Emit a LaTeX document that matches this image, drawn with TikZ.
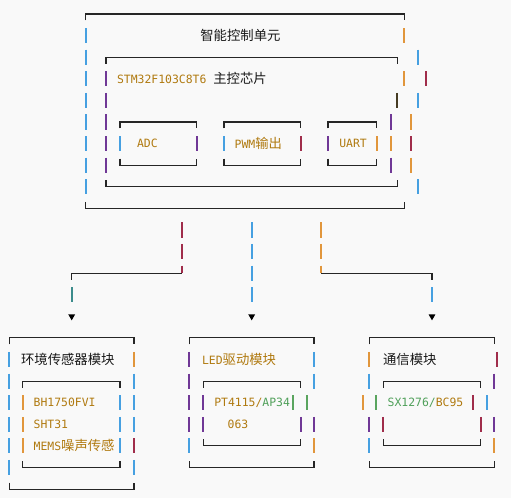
\documentclass[tikz,border=0pt]{standalone}
\usepackage{fontspec}
\setmonofont{DejaVu Sans Mono}
\newfontfamily\cjk{Noto Sans CJK SC}
\usetikzlibrary{shapes.geometric,calc}
\definecolor{barblue}{RGB}{70,160,225}
\definecolor{barorange}{RGB}{225,150,60}
\definecolor{barpurple}{RGB}{112,56,150}
\definecolor{barred}{RGB}{160,45,75}
\definecolor{bargreen}{RGB}{90,165,95}
\definecolor{barteal}{RGB}{60,140,140}
\definecolor{bardark}{RGB}{70,60,35}
\definecolor{txtgold}{RGB}{176,122,16}
\definecolor{txtgreen}{RGB}{80,160,90}
\definecolor{txtdark}{RGB}{25,25,25}
\definecolor{bgpaper}{RGB}{249,249,249}
\newcommand\zh[1]{{\cjk\fontsize{7.6}{9}\selectfont #1}}

\begin{document}
\begin{tikzpicture}[
  x=0.02cm, y=-0.432cm,
  % ── line styles ──────────────────────────────────────────
  edge/.style={line width=0.6pt, draw=black!85},
  bar/.style={line width=1.1pt},
  % ── text styles ──────────────────────────────────────────
  lbl/.style={anchor=west, inner sep=0pt, text=txtdark,
    font=\ttfamily\fontsize{6.5}{8}\selectfont},
  code/.style={lbl, text=txtgold},
  % ── arrow head ───────────────────────────────────────────
  tip/.style={regular polygon, regular polygon sides=3,
    shape border rotate=180, fill=black, draw=none,
    minimum size=0.16cm, inner sep=0pt},
]
\fill[bgpaper] (0,-0.648) rectangle (511,22.407);
\useasboundingbox (0,-0.648) rectangle (511,22.407);

%% ── MAIN CONTROL UNIT ────────────────────────────────────────
\draw[edge] (85.7,0.3) -- (85.7,0) -- (404.3,0) -- (404.3,0.3);
\draw[edge] (85.7,8.7) -- (85.7,9) -- (404.3,9) -- (404.3,8.7);
\draw[edge] (106,2.3) -- (106,2) -- (397.3,2) -- (397.3,2.3);
\draw[edge] (106,7.7) -- (106,8) -- (397.3,8) -- (397.3,7.7);
\foreach \a/\b in {120/196.7, 224/300.7, 328/376.7}{
  \draw[edge] (\a,5.3) -- (\a,5) -- (\b,5) -- (\b,5.3);
  \draw[edge] (\a,6.7) -- (\a,7) -- (\b,7) -- (\b,6.7);}

% side bars
\foreach \row in {1,...,8}
  \draw[bar, draw=barblue] (85.7,\row-0.35) -- (85.7,\row+0.35);
\foreach \row in {3,...,7}
  \draw[bar, draw=barpurple] (106,\row-0.35) -- (106,\row+0.35);
\foreach \x/\row/\col in {404.3/1/barorange, 418.3/2/barblue,
    404.3/3/barorange, 425.7/3/barred, 397.3/4/bardark, 418.3/4/barblue,
    390.7/5/barpurple, 411/5/barorange, 390.7/6/barorange, 411/6/barred,
    390.7/7/barpurple, 411/7/barorange, 418.3/8/barblue,
    120/6/barblue, 196.7/6/barpurple, 224/6/barblue, 300.7/6/barred,
    328/6/barpurple, 376.7/6/barorange}
  \draw[bar, draw=\col] (\x,\row-0.35) -- (\x,\row+0.35);

\node[lbl]  (mcu)  at (200,1)   {\zh{智能控制单元}};
\node[code] (stm)  at (116.7,3) {STM32F103C8T6 \textcolor{txtdark}{\zh{主控芯片}}};
\node[code] (adc)  at (136.7,6) {ADC};
\node[code] (pwm)  at (234.3,6) {PWM\zh{输出}};
\node[code] (uart) at (339,6)   {UART};

%% ── CONNECTORS ───────────────────────────────────────────────
\coordinate (jl) at (182.3,12);
\coordinate (kl) at (71.7,12);
\coordinate (jr) at (321,12);
\coordinate (kr) at (432,12);
\node[tip] (al) at (71.7,14)  {};
\node[tip] (am) at (251.7,14) {};
\node[tip] (ar) at (432,14)   {};

\foreach \row in {10,11}{
  \draw[bar, draw=barred] (182.3,\row-0.35) -- (182.3,\row+0.35);
  \draw[bar, draw=barorange] (321,\row-0.35) -- (321,\row+0.35);}
\foreach \row in {10,...,13}
  \draw[bar, draw=barblue] (251.7,\row-0.35) -- (251.7,\row+0.35);
\draw[bar, draw=barred] ($(jl)+(0,-0.35)$) -- (jl);
\draw[bar, draw=barorange] ($(jr)+(0,-0.35)$) -- (jr);
\draw[edge] ($(kl)+(0,0.3)$) -- (kl) -- (jl);
\draw[edge] ($(kr)+(0,0.3)$) -- (kr) -- (jr);
\draw[bar, draw=barteal] (71.7,12.65) -- (71.7,13.35);
\draw[bar, draw=barblue] (432,12.65) -- (432,13.35);

%% ── SENSOR MODULE ────────────────────────────────────────────
\draw[edge] (9.3,15.3) -- (9.3,15) -- (134,15) -- (134,15.3);
\draw[edge] (9.3,21.7) -- (9.3,22) -- (134,22) -- (134,21.7);
\draw[edge] (22.7,17.3) -- (22.7,17) -- (120,17) -- (120,17.3);
\draw[edge] (22.7,20.7) -- (22.7,21) -- (120,21) -- (120,20.7);
\foreach \x/\row/\col in {9.3/16/barblue, 134/16/barorange,
    9.3/17/barblue, 134/17/barblue,
    9.3/18/barblue, 22.7/18/barorange, 120/18/barblue, 134/18/barblue,
    9.3/19/barblue, 22.7/19/barorange, 120/19/barblue, 134/19/barblue,
    9.3/20/barblue, 22.7/20/barorange, 120/20/barblue, 134/20/barred,
    9.3/21/barblue, 134/21/barblue}
  \draw[bar, draw=\col] (\x,\row-0.35) -- (\x,\row+0.35);

\node[lbl]  (env)  at (20.7,16) {\zh{环境传感器模块}};
\node[code] (bh)   at (33.3,18) {BH1750FVI};
\node[code] (sht)  at (33.3,19) {SHT31};
\node[code] (mems) at (33.3,20) {MEMS\zh{噪声传感}};

%% ── LED DRIVER MODULE ────────────────────────────────────────
\draw[edge] (189.3,15.3) -- (189.3,15) -- (314,15) -- (314,15.3);
\draw[edge] (189.3,20.7) -- (189.3,21) -- (314,21) -- (314,20.7);
\draw[edge] (203.3,17.3) -- (203.3,17) -- (300.7,17) -- (300.7,17.3);
\draw[edge] (203.3,19.7) -- (203.3,20) -- (300.7,20) -- (300.7,19.7);
\foreach \x/\row/\col in {189.3/16/barpurple, 314/16/barblue,
    189.3/17/barpurple, 314/17/barblue,
    189.3/18/barpurple, 203.3/18/barpurple, 293.3/18/bargreen, 307.3/18/bargreen,
    189.3/19/barpurple, 203.3/19/barpurple, 300.7/19/barpurple, 314/19/barpurple,
    189.3/20/barblue, 314/20/barorange}
  \draw[bar, draw=\col] (\x,\row-0.35) -- (\x,\row+0.35);

\node[code] (led)  at (201.7,16) {LED\zh{驱动模块}};
\node[code] (pt)   at (214,18)   {PT4115/\textcolor{txtgreen}{AP34}};
\node[code] (n063) at (227.3,19) {063};

%% ── COMMUNICATION MODULE ─────────────────────────────────────
\draw[edge] (369.3,15.3) -- (369.3,15) -- (494.3,15) -- (494.3,15.3);
\draw[edge] (369.3,20.7) -- (369.3,21) -- (494.3,21) -- (494.3,20.7);
\draw[edge] (383.3,17.3) -- (383.3,17) -- (480.7,17) -- (480.7,17.3);
\draw[edge] (383.3,19.7) -- (383.3,20) -- (480.7,20) -- (480.7,19.7);
\foreach \x/\row/\col in {369.3/16/barorange, 496.7/16/barred,
    369.3/17/barblue, 494.3/17/barpurple,
    362.7/18/barorange, 376/18/bargreen, 473.3/18/barred, 487.3/18/barblue,
    369.3/19/barpurple, 383.3/19/barred, 480.7/19/barred, 494.3/19/barpurple,
    369.3/20/barblue, 494.3/20/barorange}
  \draw[bar, draw=\col] (\x,\row-0.35) -- (\x,\row+0.35);

\node[lbl]  (com) at (382.7,16) {\zh{通信模块}};
\node[code] (sx)  at (387.3,18) {\textcolor{txtgreen}{SX1276/}BC95};

\end{tikzpicture}
\end{document}
